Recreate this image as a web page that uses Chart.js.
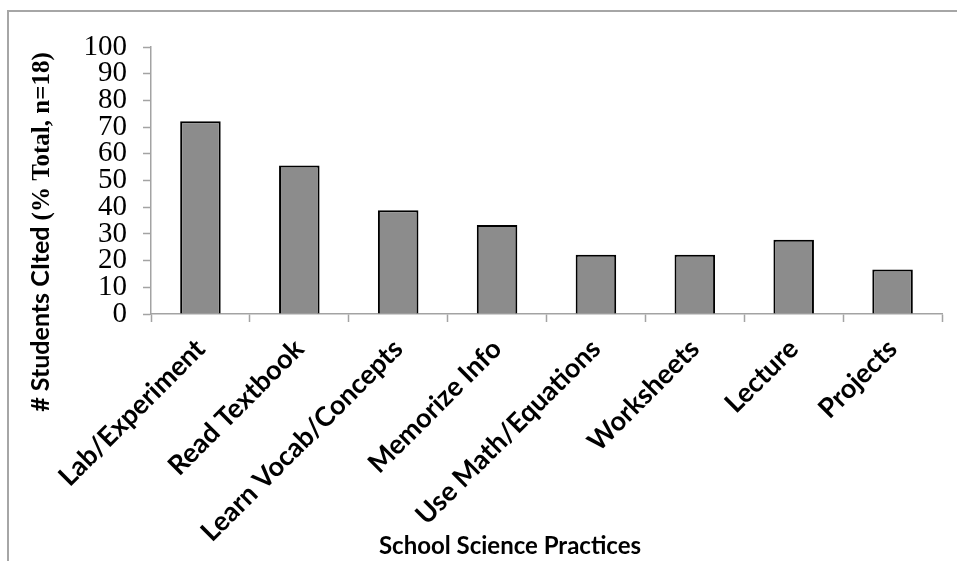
<!DOCTYPE html>
<html>
<head>
<meta charset="utf-8">
<script src="https://cdn.jsdelivr.net/npm/chart.js@4/dist/chart.umd.min.js"></script>
<style>
  html, body { margin: 0; padding: 0; background: #ffffff; }
  #wrap { position: relative; width: 957px; height: 561px; }
</style>
</head>
<body>
<div id="wrap"><canvas id="chart" width="957" height="561"></canvas></div>
<script>
// School science practices cited by students (% of total, n = 18)
const categories = [
  'Lab/Experiment', 'Read Textbook', 'Learn Vocab/Concepts', 'Memorize Info',
  'Use Math/Equations', 'Worksheets', 'Lecture', 'Projects'
];
const percentCited = [72.2, 55.6, 38.9, 33.3, 22.2, 22.2, 27.8, 16.7];
const yTickValues = [0, 10, 20, 30, 40, 50, 60, 70, 80, 90, 100];

const yTitleSans = '# Students CIted ';
const yTitleSerif = '(% Total, n=18)';
const xTitle = 'School Science Practices';

const SANS = 'Lato, "Liberation Sans", sans-serif';
const SERIF = '"Liberation Serif", "DejaVu Serif", serif';
const AXIS_GRAY = '#a3a3a3';

// Outer frame and the two axis titles
const decorations = {
  id: 'decorations',
  beforeDraw(chart) {
    const ctx = chart.ctx;
    ctx.save();
    ctx.fillStyle = '#ffffff';
    ctx.fillRect(0, 0, chart.width, chart.height);
    ctx.strokeStyle = '#a6a6a6';
    ctx.lineWidth = 2;
    ctx.strokeRect(8, 11, chart.width + 20, chart.height + 20);
    ctx.restore();
  },
  afterDraw(chart) {
    const ctx = chart.ctx;
    ctx.save();
    ctx.fillStyle = '#000000';
    ctx.textBaseline = 'alphabetic';

    // vertical title, mixed sans / serif runs
    const sansFont = 'bold 25px ' + SANS;
    const serifFont = 'bold 25px ' + SERIF;
    ctx.font = sansFont;
    const w1 = ctx.measureText(yTitleSans).width;
    ctx.font = serifFont;
    const w2 = ctx.measureText(yTitleSerif).width;
    const total = w1 + w2;
    const cy = 232;
    ctx.translate(49, cy);
    ctx.rotate(-Math.PI / 2);
    ctx.textAlign = 'left';
    ctx.font = sansFont;
    ctx.fillText(yTitleSans, -total / 2, 0);
    ctx.font = serifFont;
    ctx.fillText(yTitleSerif, -total / 2 + w1, 0);
    ctx.setTransform(1, 0, 0, 1, 0, 0);

    // horizontal title
    ctx.font = 'bold 24px ' + SANS;
    ctx.textAlign = 'center';
    ctx.fillText(xTitle, 510, 554);
    ctx.restore();
  }
};

new Chart(document.getElementById('chart'), {
  type: 'bar',
  data: {
    labels: categories,
    datasets: [{
      data: percentCited,
      backgroundColor: '#8c8c8c',
      borderColor: '#000000',
      borderWidth: 2,
      categoryPercentage: 1.0,
      barPercentage: 0.41
    }]
  },
  options: {
    responsive: false,
    animation: false,
    devicePixelRatio: 1,
    layout: { padding: { top: 47, right: 15, left: 0, bottom: 0 } },
    plugins: {
      legend: { display: false },
      tooltip: { enabled: false },
      title: { display: false }
    },
    scales: {
      x: {
        type: 'category',
        offset: true,
        grid: {
          offset: true,
          drawOnChartArea: false,
          drawTicks: true,
          tickLength: 8,
          tickWidth: 1.5,
          tickColor: AXIS_GRAY
        },
        border: { display: true, color: AXIS_GRAY, width: 1.5 },
        ticks: {
          autoSkip: false,
          minRotation: 45,
          maxRotation: 45,
          padding: 11,
          color: '#000000',
          font: { family: SANS, size: 27, weight: 'bold' }
        },
        afterFit(scale) { scale.height = 247; }
      },
      y: {
        min: 0,
        max: 100,
        afterBuildTicks(scale) {
          scale.ticks = yTickValues.map(v => ({ value: v }));
        },
        grid: {
          drawOnChartArea: false,
          drawTicks: true,
          tickLength: 8,
          tickWidth: 1.5,
          tickColor: AXIS_GRAY
        },
        border: { display: true, color: AXIS_GRAY, width: 1.5 },
        ticks: {
          autoSkip: false,
          padding: 16,
          color: '#000000',
          font: { family: SERIF, size: 29 }
        },
        afterFit(scale) { scale.width = 151; }
      }
    }
  },
  plugins: [decorations]
});
</script>
</body>
</html>
